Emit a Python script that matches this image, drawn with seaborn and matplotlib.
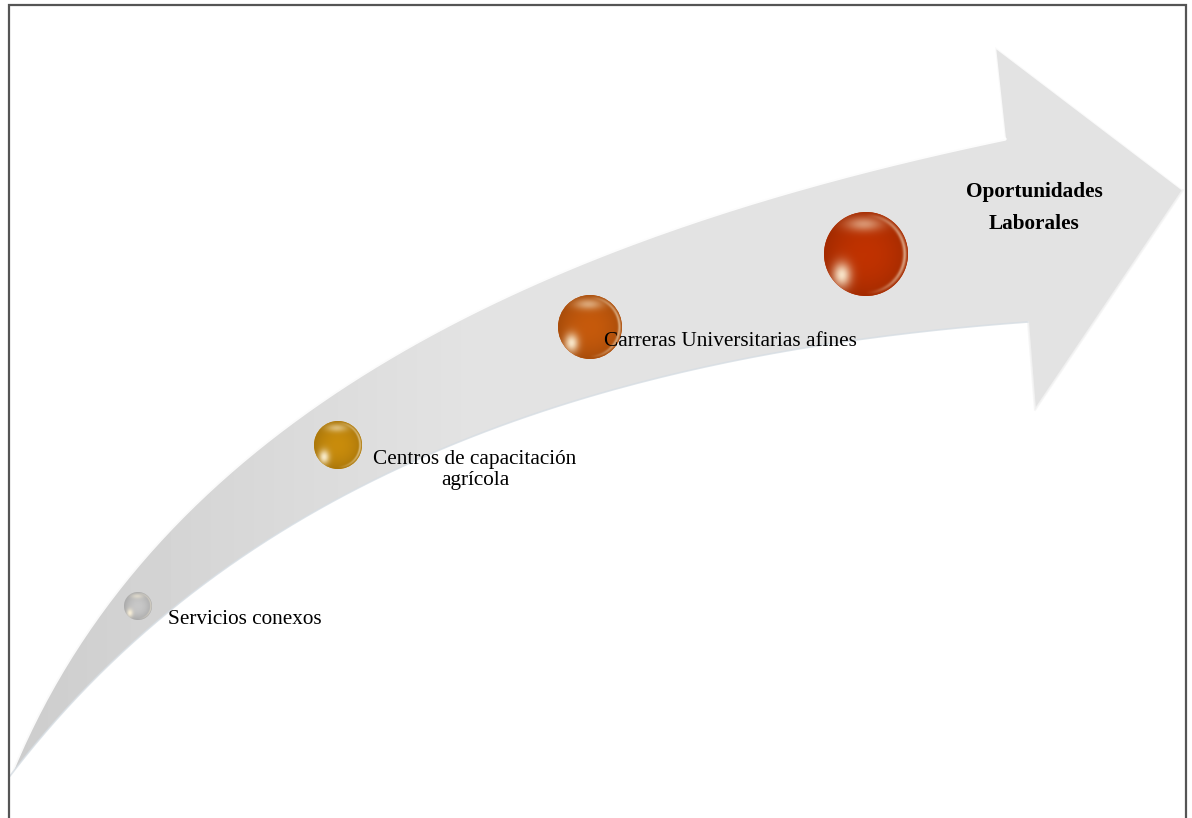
import numpy as np
import seaborn as sns
import matplotlib.pyplot as plt
from matplotlib.path import Path
from matplotlib.patches import PathPatch, Circle
from matplotlib.colors import to_rgb

# stages of the diagram (position along the arrow, in picture pixels)
labels = ["Servicios conexos", "Centros de capacitación\nagrícola",
          "Carreras Universitarias afines", "Oportunidades\nLaborales"]
stage_x = [138, 338, 590, 866]
stage_y = [606, 445, 327, 254]
stage_r = [14, 24, 32, 42]
stage_colors = ["#c8c8c8", "#c98c0c", "#c65a0c", "#c03200"]

W, H = 1192, 818

sns.set_theme(style="white")
plt.rcParams['font.family'] = ['Liberation Serif', 'DejaVu Serif']
plt.rcParams['text.color'] = 'black'

fig = plt.figure(figsize=(W / 100, H / 100), dpi=100)
ax = fig.add_axes([0, 0, 1, 1])
ax.set_xlim(0, W)
ax.set_ylim(H, 0)
ax.axis("off")


def bez(p0, c1, c2, p3, t):
    t = t[:, None]
    return ((1 - t) ** 3 * p0 + 3 * (1 - t) ** 2 * t * c1
            + 3 * (1 - t) * t ** 2 * c2 + t ** 3 * p3)


def smooth_edge(points, n=150):
    # least-squares cubic bezier through traced outline points
    p = np.array(points, dtype=float)
    p0, p3 = p[0], p[-1]
    d = np.r_[0, np.cumsum(np.hypot(*np.diff(p, axis=0).T))]
    t = d / d[-1]
    dense_t = np.linspace(0, 1, 2000)
    for _ in range(30):
        b1 = 3 * (1 - t) ** 2 * t
        b2 = 3 * (1 - t) * t ** 2
        rhs = p - ((1 - t) ** 3)[:, None] * p0 - (t ** 3)[:, None] * p3
        sol, *_ = np.linalg.lstsq(np.c_[b1, b2], rhs, rcond=None)
        c1, c2 = sol
        dense = bez(p0, c1, c2, p3, dense_t)
        dist = ((p[:, None, :] - dense[None, :, :]) ** 2).sum(-1)
        t = dense_t[dist.argmin(1)]
        t[0], t[-1] = 0, 1
    return bez(p0, c1, c2, p3, np.linspace(0, 1, n))


# arrow outline
upper = smooth_edge([(10, 776), (33, 727), (67, 670), (100, 613), (133, 567), (220, 480),
                     (300, 413), (400, 355), (500, 303), (600, 255), (700, 218),
                     (800, 188), (900, 163), (1005, 139)])
lower = smooth_edge([(1028, 322), (900, 332), (800, 347), (700, 368), (600, 397),
                     (500, 430), (364, 480), (300, 520), (200, 580), (150, 630),
                     (100, 680), (50, 733), (10, 776)])
head = np.array([(995, 47), (1183, 190), (1035, 410)])
pts = np.vstack([upper, head, lower])
arrow = PathPatch(Path(pts), facecolor="none", edgecolor="none")
ax.add_patch(arrow)

# arrow gradient fill (darker near the tail)
xs = np.linspace(0, 1, 300)
shade = 0.80 + 0.09 * np.clip(xs / 0.4, 0, 1)
grad = np.tile(shade, (10, 1))
img = ax.imshow(grad, cmap="gray", vmin=0, vmax=1, extent=(0, W, H, 0),
                aspect="auto", zorder=1)
img.set_clip_path(arrow)

# light rim along top edge and head
ax.plot(upper[:, 0], upper[:, 1], color="white", lw=2.5, alpha=0.9, zorder=2)
ax.plot([upper[-1, 0], 995, 1183], [upper[-1, 1], 47, 190], color="white", lw=1.5,
        alpha=0.8, zorder=2)
ax.plot([1183, 1035, 1028], [190, 410, 322], color="#f4f4f4", lw=1.5, alpha=0.8, zorder=2)
ax.plot(lower[:, 0], lower[:, 1], color="#d6dde3", lw=1.2, alpha=0.8, zorder=2)

# sphere base points via seaborn
sizes = [(2 * r * 0.72) ** 2 for r in stage_r]
sns.scatterplot(x=stage_x, y=stage_y, hue=labels, palette=stage_colors,
                s=sizes, linewidth=0, legend=False, ax=ax, zorder=3)

# glossy shading on each sphere
n = 120
u, v = np.meshgrid(np.linspace(-1, 1, n), np.linspace(1, -1, n))
rr = u ** 2 + v ** 2
for x, y, r, col in zip(stage_x, stage_y, stage_r, stage_colors):
    base = np.array(to_rgb(col))
    rgb = base[None, None, :] * (1.0 - 0.15 * rr)[..., None]
    # bright reflection lower-left
    g1 = np.exp(-((u + 0.58) ** 2 / 0.05 + (v + 0.5) ** 2 / 0.09))
    # soft highlight on top
    g2 = np.exp(-((u + 0.05) ** 2 / 0.2 + (v - 0.72) ** 2 / 0.03))
    # rim light on the right
    g3 = np.exp(-((np.sqrt(rr) - 0.93) ** 2) / 0.002) * np.clip(u, 0, 1)
    light = np.array([1.0, 0.96, 0.86])
    for g, k in ((g1, 0.9), (g2, 0.5), (g3, 0.6)):
        rgb = rgb * (1 - k * g[..., None]) + light * (k * g[..., None])
    rgba = np.dstack([np.clip(rgb, 0, 1), np.ones((n, n))])
    im = ax.imshow(rgba, extent=(x - r, x + r, y + r, y - r), zorder=4,
                   interpolation="bilinear")
    c = Circle((x, y), r, transform=ax.transData, facecolor="none", edgecolor="none")
    ax.add_patch(c)
    im.set_clip_path(c)

# labels
fs = 15.3
ax.text(168, 620, labels[0], fontsize=fs, ha="left", va="center", zorder=5)
ax.text(475, 470, labels[1], fontsize=fs, ha="center", va="center",
        linespacing=1.12, zorder=5)
ax.text(604, 341, labels[2], fontsize=fs, ha="left", va="center", zorder=5)
ax.text(1034, 208, labels[3], fontsize=fs, ha="center", va="center",
        fontweight="bold", linespacing=1.75, zorder=5)

# frame
ax.plot([8.5, 8.5, 1185.5, 1185.5], [H, 4.5, 4.5, H], color="#555555", lw=1.6,
        zorder=6, solid_joinstyle="miter")

fig.savefig("out.png", dpi=100)
